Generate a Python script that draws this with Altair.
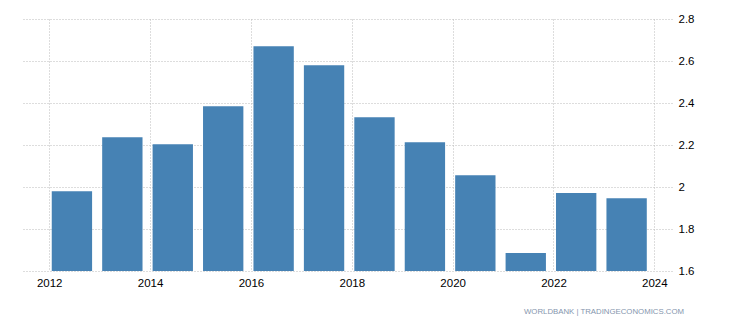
import altair as alt
import pandas as pd

years = [2012, 2013, 2014, 2015, 2016, 2017, 2018, 2019, 2020, 2021, 2022, 2023]
values = [1.98, 2.237, 2.204, 2.385, 2.670, 2.580, 2.332, 2.213, 2.056, 1.686, 1.971, 1.947]
x_ticks = [2012, 2014, 2016, 2018, 2020, 2022, 2024]
y_ticks = [1.6, 1.8, 2.0, 2.2, 2.4, 2.6, 2.8]

df = pd.DataFrame({"year": years, "value": values})

FONT = "Liberation Sans"

bars = alt.Chart(df).transform_calculate(
    x0="datum.year + 0.05", x1="datum.year + 0.85"
).mark_bar(color="#4682b4", clip=True).encode(
    x=alt.X("x0:Q", scale=alt.Scale(domain=[2011.46, 2024.35], nice=False, zero=False),
            axis=alt.Axis(values=x_ticks, format="d", title=None, grid=True,
                          gridDash=[1, 2], gridColor="#bbbbbb", domain=False, ticks=False,
                          labelPadding=6, labelFontSize=11.5, labelFont=FONT, labelColor="#000000")),
    x2="x1:Q",
    y=alt.Y("value:Q", scale=alt.Scale(domain=[1.6, 2.8], nice=False, zero=False),
            axis=alt.Axis(values=y_ticks, format="~g", orient="right", title=None, grid=True,
                          gridDash=[1, 2], gridColor="#bbbbbb", domain=False, ticks=False,
                          labelPadding=6, labelFontSize=11.5, labelFont=FONT, labelColor="#000000")),
    y2=alt.datum(1.6),
)

chart = bars.properties(
    width=650, height=252,
    padding={"left": 22, "top": 19, "right": 58, "bottom": 54},
    autosize=alt.AutoSizeParams(type="none"),
    title=alt.TitleParams(text="WORLDBANK | TRADINGECONOMICS.COM", orient="bottom", anchor="end",
                          fontSize=7.8, font=FONT, fontWeight="normal", color="#8595ad", dx=-10, offset=19),
).configure_view(stroke=None)

chart.save("out.html", embed_options={"renderer": "svg", "actions": False})
